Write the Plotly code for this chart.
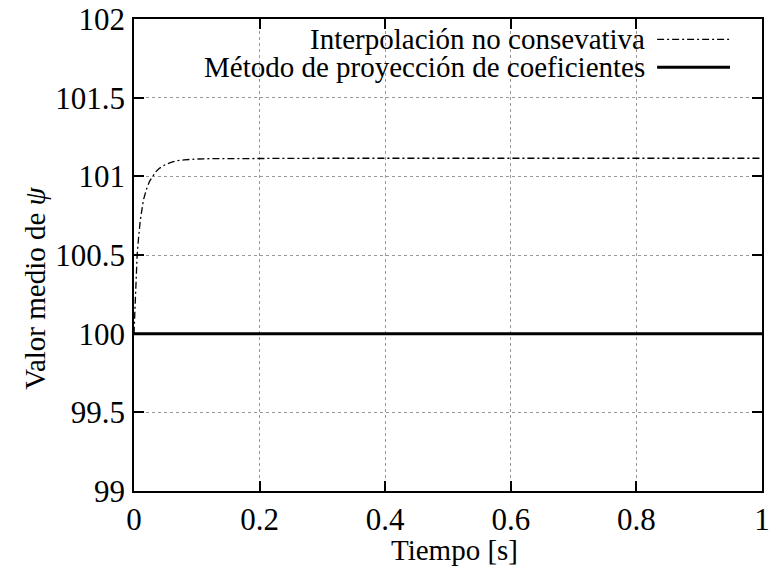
import plotly.graph_objects as go

# Data
t_interp = [0.0, 0.001, 0.002, 0.003, 0.005, 0.0075, 0.01, 0.015, 0.02, 0.025, 0.03, 0.035,
            0.04, 0.05, 0.06, 0.07, 0.08, 0.09, 0.1, 0.12, 0.15, 0.2, 0.3, 0.5, 0.7, 1.0]
v_interp = [100.0, 100.12, 100.25, 100.35, 100.5, 100.62, 100.72, 100.85, 100.92, 100.97,
            101.0, 101.03, 101.05, 101.075, 101.09, 101.1, 101.105, 101.108, 101.11,
            101.112, 101.113, 101.114, 101.115, 101.115, 101.115, 101.115]
t_proj = [0.0, 0.25, 0.5, 0.75, 1.0]
v_proj = [100.0, 100.0, 100.0, 100.0, 100.0]

name_interp = "Interpolación no consevativa"
name_proj = "Método de proyección de coeficientes"
x_ticks = [0, 0.2, 0.4, 0.6, 0.8, 1]
x_ticklabels = ["0", "0.2", "0.4", "0.6", "0.8", "1"]
y_ticks = [99, 99.5, 100, 100.5, 101, 101.5, 102]
y_ticklabels = ["99", "99.5", "100", "100.5", "101", "101.5", "102"]
x_title = "Tiempo [s]"
y_title = "Valor medio de <i>ψ</i>"

FONT = "Liberation Serif"
FS = 29
FS_TICK = 31

fig = go.Figure()
fig.add_trace(go.Scatter(x=t_interp, y=v_interp, mode="lines", name=name_interp,
                         line=dict(color="black", width=1.3, dash="7px,3px,2px,3px")))
fig.add_trace(go.Scatter(x=t_proj, y=v_proj, mode="lines", name=name_proj,
                         line=dict(color="black", width=3)))

axis_common = dict(
    showline=True, linecolor="black", linewidth=1.5, mirror="ticks",
    ticks="inside", ticklen=10, tickcolor="black", tickwidth=1.5,
    showgrid=True, gridcolor="#999999", griddash="dot", gridwidth=1,
    zeroline=False, automargin=False,
    tickfont=dict(family=FONT, size=FS_TICK, color="black"),
)
fig.update_xaxes(range=[0, 1], tickvals=x_ticks, ticktext=x_ticklabels, **axis_common)
fig.update_yaxes(range=[99, 102], tickvals=y_ticks, ticktext=y_ticklabels,
                 ticklabelstandoff=1, **axis_common)

# axis titles placed as in the reference
fig.add_annotation(xref="paper", yref="paper", x=0.511, y=-0.125, text=x_title,
                   showarrow=False, xanchor="center", yanchor="middle",
                   font=dict(family=FONT, size=FS, color="black"))
fig.add_annotation(xref="paper", yref="paper", x=-0.158, y=0.43, text=y_title,
                   showarrow=False, textangle=-90, xanchor="center", yanchor="middle",
                   font=dict(family=FONT, size=FS, color="black"))

# gnuplot-style legend: right-aligned text with sample to its right
legend_rows = [(name_interp, dict(color="black", width=1.3, dash="7px,3px,2px,3px"), 0.957),
               (name_proj, dict(color="black", width=3), 0.898)]
for label, lstyle, yp in legend_rows:
    fig.add_annotation(xref="paper", yref="paper", x=0.8175, y=yp, text=label,
                       showarrow=False, xanchor="right", yanchor="middle",
                       font=dict(family=FONT, size=FS, color="black"))
    fig.add_shape(type="line", xref="paper", yref="paper", x0=0.833, x1=0.949, y0=yp, y1=yp,
                  line=lstyle)

fig.update_layout(
    width=771, height=569, showlegend=False,
    margin=dict(l=134, r=9, t=19, b=78),
    paper_bgcolor="white", plot_bgcolor="white",
    font=dict(family=FONT, size=FS, color="black"),
)
fig.write_html("out.html")
